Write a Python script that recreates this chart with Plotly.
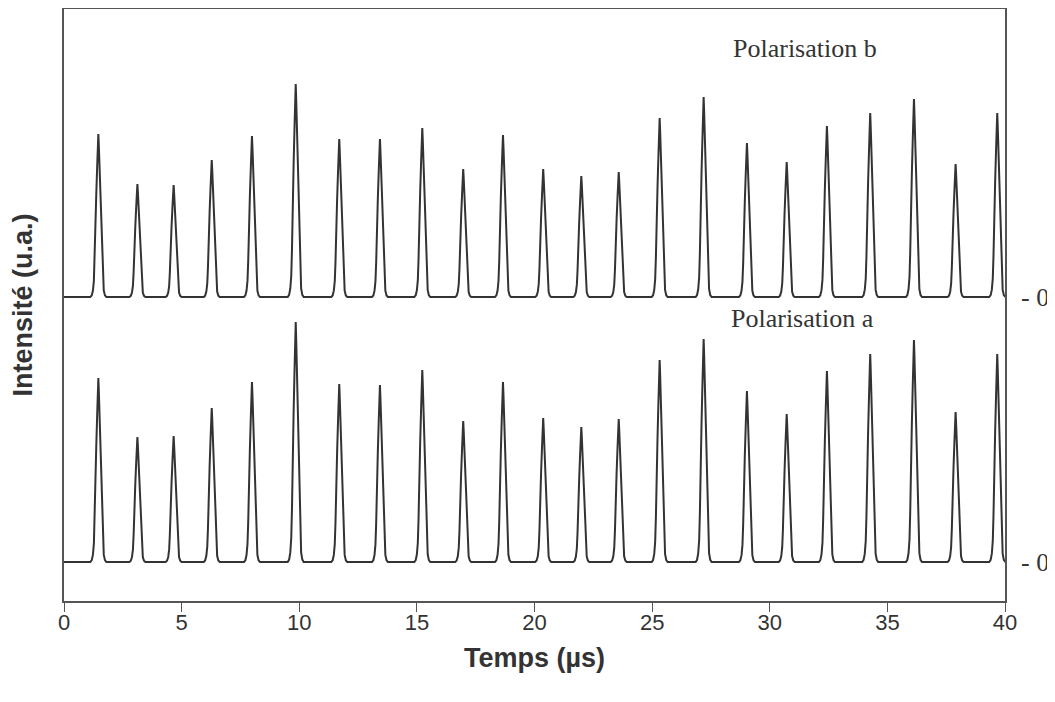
import plotly.graph_objects as go

# Peak centres (µs)
peak_times = [1.46, 3.12, 4.66, 6.28, 7.99, 9.85, 11.70, 13.43, 15.23, 16.97, 18.66, 20.37,
              21.99, 23.58, 25.32, 27.19, 29.03, 30.72, 32.43, 34.27, 36.13, 37.90, 39.67]
# Peak heights (u.a.) above each baseline
heights_b = [1.63, 1.13, 1.12, 1.37, 1.61, 2.13, 1.58, 1.58, 1.69, 1.28, 1.62, 1.28,
             1.21, 1.25, 1.79, 2.00, 1.54, 1.35, 1.71, 1.84, 1.98, 1.33, 1.84]
heights_a = [1.84, 1.25, 1.26, 1.54, 1.80, 2.40, 1.78, 1.77, 1.92, 1.41, 1.80, 1.44,
             1.35, 1.43, 2.02, 2.23, 1.71, 1.48, 1.91, 2.08, 2.22, 1.50, 2.08]
# Baselines of the two traces (vertical offset)
baseline_a = 0.0
baseline_b = 2.65
# Pulse profile (time offset in µs, relative height)
pulse_dt = [-0.34, -0.28, -0.23, -0.19, -0.16, -0.13, -0.09, -0.05, -0.02, 0.0,
            0.02, 0.05, 0.09, 0.13, 0.16, 0.19, 0.23, 0.28, 0.34]
pulse_rel = [0.0, 0.01, 0.04, 0.10, 0.22, 0.45, 0.62, 0.80, 0.93, 1.0,
             0.93, 0.80, 0.62, 0.45, 0.22, 0.10, 0.04, 0.01, 0.0]
t_start, t_end = 0.0, 40.0
x_ticks = [0, 5, 10, 15, 20, 25, 30, 35, 40]


def build(times, heights, base):
    xs, ys = [t_start], [base]
    for c, h in zip(times, heights):
        for dt, r in zip(pulse_dt, pulse_rel):
            xs.append(c + dt)
            ys.append(base + h * r)
    xs.append(t_end)
    ys.append(base)
    return xs, ys


xa, ya = build(peak_times, heights_a, baseline_a)
xb, yb = build(peak_times, heights_b, baseline_b)

line_style = dict(color="#333333", width=2)
fig = go.Figure()
fig.add_trace(go.Scatter(x=xb, y=yb, mode="lines", line=line_style, name="Polarisation b",
                         showlegend=False))
fig.add_trace(go.Scatter(x=xa, y=ya, mode="lines", line=line_style, name="Polarisation a",
                         showlegend=False))

serif = "Times New Roman, Liberation Serif, serif"
sans = "Arial, Liberation Sans, sans-serif"

fig.add_annotation(x=0.787, xref="paper", xanchor="center", y=5.14, yref="y",
                   text="Polarisation b", showarrow=False,
                   font=dict(family=serif, size=26, color="#333333"))
fig.add_annotation(x=0.785, xref="paper", xanchor="center", y=2.44, yref="y",
                   text="Polarisation a", showarrow=False,
                   font=dict(family=serif, size=26, color="#333333"))
for b in (baseline_a, baseline_b):
    fig.add_annotation(x=1, xref="paper", xanchor="left", xshift=14, y=b, yref="y",
                       text="- 0", showarrow=False,
                       font=dict(family=serif, size=26, color="#333333"))

fig.update_layout(
    width=1047, height=694,
    margin=dict(l=56, r=50, t=1, b=101),
    paper_bgcolor="white", plot_bgcolor="white",
    showlegend=False,
    xaxis=dict(range=[t_start, t_end], tickvals=x_ticks, ticks="outside", ticklen=9,
               tickcolor="#555555", tickwidth=1.2, automargin=False,
               ticklabelstandoff=-8,
               showline=True, linecolor="#555555", linewidth=1.5, mirror=True,
               showgrid=False, zeroline=False,
               tickfont=dict(family=sans, size=22, color="#333333"),
               title=dict(text="<b>Temps (µs)</b>", standoff=14,
                          font=dict(family=sans, size=27, color="#333333"))),
    yaxis=dict(range=[-0.39, 5.53], showticklabels=False, ticks="", automargin=False,
               showline=True, linecolor="#555555", linewidth=1.5, mirror=True,
               showgrid=False, zeroline=False,
               title=dict(text="<b>Intensité (u.a.)</b>", standoff=24,
                          font=dict(family=sans, size=27, color="#333333"))),
)

fig.write_html("out.html")
